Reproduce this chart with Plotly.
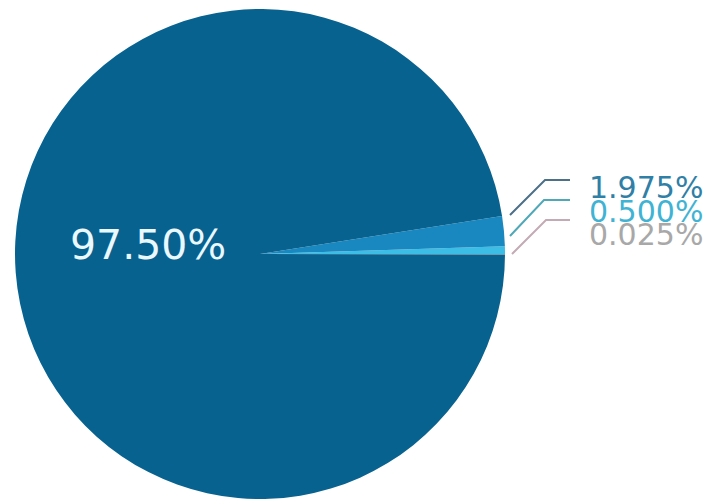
import plotly.graph_objects as go

# Share of each category (percent), listed in drawing order from 3 o'clock upward
categories = ["Category D", "Category C", "Category B", "Category A"]
shares = [0.025, 0.500, 1.975, 97.50]
decimals = [3, 3, 3, 2]

slice_colors = ["#b4b4b4", "#3cbde6", "#1a88c0", "#07628f"]
label_colors = ["#a8a8a8", "#3fb3d4", "#2f7fa6", "#eaf8ff"]
leader_colors = ["#c4aab4", "#4fa8b8", "#4c7088"]

W, H = 728, 499


def px(x):
    return x / W


def py(y):
    return 1 - y / H


fig = go.Figure(
    go.Pie(
        labels=categories,
        values=shares,
        sort=False,
        direction="counterclockwise",
        rotation=90,
        marker=dict(colors=slice_colors, line=dict(width=0)),
        textinfo="none",
        hoverinfo="skip",
        showlegend=False,
        domain=dict(x=[px(15), px(505)], y=[0, py(9)]),
    )
)

texts = [f"{v:.{d}f}%" for v, d in zip(shares, decimals)]

# Large share label inside the main slice
fig.add_annotation(
    x=px(148), y=py(245), xref="paper", yref="paper",
    text=texts[3], showarrow=False, xanchor="center", yanchor="middle",
    font=dict(family="DejaVu Sans", size=41, color=label_colors[3]),
)

# Small share labels stacked to the right, top to bottom: B, C, D
label_rows = [(2, 188), (1, 211), (0, 234)]
leader_paths = {
    2: [(510, 215), (545, 180), (570, 180)],
    1: [(510, 236), (544, 200), (570, 200)],
    0: [(512, 254), (546, 220), (570, 220)],
}
for i, y in label_rows:
    fig.add_annotation(
        x=px(587), y=py(y), xref="paper", yref="paper",
        text=texts[i], showarrow=False, xanchor="left", yanchor="middle",
        font=dict(family="DejaVu Sans", size=30, color=label_colors[i]),
    )
    pts = leader_paths[i]
    path = "M " + " L ".join(f"{px(a)},{py(b)}" for a, b in pts)
    fig.add_shape(
        type="path", path=path, xref="paper", yref="paper",
        line=dict(color=leader_colors[i], width=2),
    )

fig.update_layout(
    width=W, height=H,
    margin=dict(l=0, r=0, t=0, b=0),
    paper_bgcolor="white",
    plot_bgcolor="white",
)

fig.write_html("out.html")
